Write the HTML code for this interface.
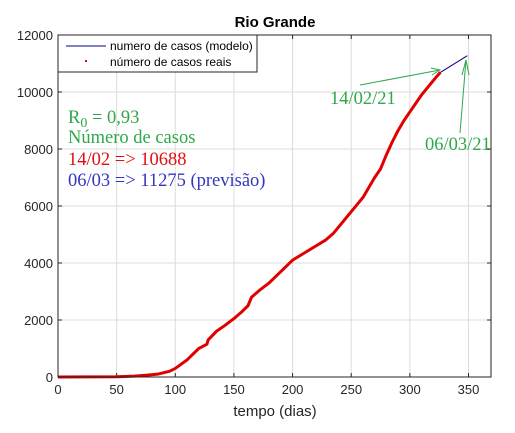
<!DOCTYPE html>
<html><head><meta charset="utf-8"><style>
body{margin:0;background:#fff}
svg text{font-family:"Liberation Sans",sans-serif}
.ser{font-family:"Liberation Serif",serif}
</style></head><body>
<svg width="515" height="428">
<g id="plot"></g>
</svg>
<script>
const days=[0,25,50,65,75,85,90,95,100,105,110,115,120,127,128,135,142,150,157,162,165,172,180,190,200,210,220,228,235,240,250,260,265,270,275,280,285,290,295,300,305,310,315,320,323,326];
const cases=[0,3,10,30,60,100,150,200,300,450,600,800,1000,1150,1300,1600,1800,2050,2300,2500,2800,3050,3300,3700,4100,4350,4600,4800,5050,5300,5800,6300,6650,7000,7300,7800,8250,8650,9000,9300,9600,9900,10150,10400,10550,10688];
const modelDays=[326,349];
const modelCases=[10688,11275];
const xTicks=[0,50,100,150,200,250,300,350];
const yTicks=[0,2000,4000,6000,8000,10000,12000];
const L=58,R=491,T=35,B=377;
const xs=d=>L+d*(468.5-L)/350, ys=v=>B-v*(B-T)/12000;
const g=document.getElementById('plot');
const NS='http://www.w3.org/2000/svg';
function el(t,a,p){const e=document.createElementNS(NS,t);for(const k in a)e.setAttribute(k,a[k]);(p||g).appendChild(e);return e;}
el('rect',{x:L,y:T,width:R-L,height:B-T,fill:'#fff'});
xTicks.forEach(t=>{const x=xs(t);
const gl=el('line',{x1:x,x2:x,y1:T,y2:B,stroke:'#dcdcdc'});

el('line',{x1:x,x2:x,y1:B,y2:B-4,stroke:'#262626'});el('line',{x1:x,x2:x,y1:T,y2:T+4,stroke:'#262626'});
const tx=el('text',{x:x,y:B+17,'text-anchor':'middle','font-size':13,fill:'#262626'});tx.textContent=t;
});
yTicks.forEach(t=>{const y=ys(t);
const gl=el('line',{x1:L,x2:R,y1:y,y2:y,stroke:'#dcdcdc'});

el('line',{x1:L,x2:L+4,y1:y,y2:y,stroke:'#262626'});el('line',{x1:R,x2:R-4,y1:y,y2:y,stroke:'#262626'});
const tx=el('text',{x:L-5,y:y+5,'text-anchor':'end','font-size':13,fill:'#262626'});tx.textContent=t;
});
const m=el('polyline',{points:modelDays.map((d,i)=>xs(d)+','+ys(modelCases[i])).join(' '),fill:'none',stroke:'#00008b','stroke-width':1});

const r=el('polyline',{points:days.map((d,i)=>xs(d)+','+ys(cases[i])).join(' '),fill:'none',stroke:'#e00000','stroke-width':3,'stroke-linejoin':'round'});

el('rect',{x:L,y:T,width:R-L,height:B-T,fill:'none',stroke:'#262626'});
const lg=el('g',{});
el('rect',{x:L,y:T,width:199,height:37,fill:'#fff',stroke:'#262626'},lg);
el('line',{x1:66,x2:106,y1:46,y2:46,stroke:'#00008b'},lg);
el('rect',{x:85,y:60,width:2,height:2,fill:'#e00000'},lg);
let t1=el('text',{x:110,y:50,'font-size':12,fill:'#000'},lg);t1.textContent='numero de casos (modelo)';
let t2=el('text',{x:110,y:66,'font-size':12,fill:'#000'},lg);t2.textContent='número de casos reais';
let tt=el('text',{x:275,y:27,'text-anchor':'middle','font-size':15,'font-weight':'bold',fill:'#000'});tt.textContent='Rio Grande';

let xl=el('text',{x:275,y:416,'text-anchor':'middle','font-size':15,fill:'#262626'});xl.textContent='tempo (dias)';

const an=el('g',{});
function tx(x,y,c,s){const e=el('text',{x:x,y:y,fill:c,'class':'ser','font-size':18.5},an);e.innerHTML=s;return e;}
tx(68,123,'#2ea84a','R<tspan font-size="14" dy="4">0</tspan><tspan dy="-4"> = 0,93</tspan>');
tx(68,143,'#2ea84a','Número de casos');
tx(68,165,'#e01010','14/02 =&gt; 10688');
tx(68,186,'#3535c0','06/03 =&gt; 11275 (previsão)');
tx(330,104,'#2ea84a','14/02/21');
tx(425,150,'#2ea84a','06/03/21');
el('line',{x1:360,y1:85,x2:440,y2:70,stroke:'#2ea84a'},an);
el('polyline',{points:'431,68 440,70 432,75',fill:'none',stroke:'#2ea84a'},an);
el('line',{x1:460,y1:133,x2:466,y2:60,stroke:'#2ea84a'},an);
el('polyline',{points:'462,75 466,60 469,75',fill:'none',stroke:'#2ea84a'},an);
</script>
</body></html>
